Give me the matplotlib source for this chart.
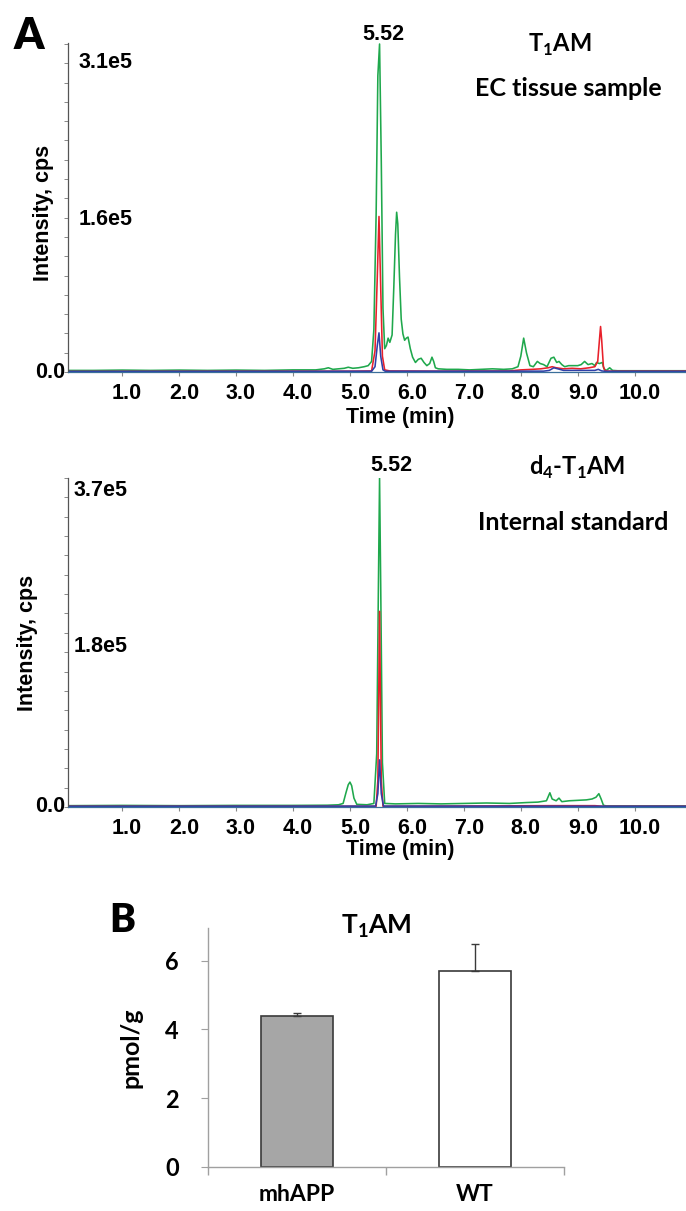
import matplotlib
matplotlib.use("Agg")
import matplotlib.pyplot as plt
import matplotlib.transforms as mtrans
from matplotlib.ticker import MultipleLocator, FixedLocator, NullFormatter
import numpy as np

plt.rcParams['mathtext.fontset'] = 'custom'
plt.rcParams['mathtext.rm'] = 'Lato'
plt.rcParams['mathtext.bf'] = 'Lato:bold'

# ---------------- data ----------------
# chromatogram traces: (time [min], intensity [kcps])
t1am_green = [(0.05,1.5),(0.5,1.5),(1.0,1.8),(1.5,1.5),(2.0,1.8),(2.5,1.5),(3.0,1.8),(3.5,1.5),(4.0,2),
    (4.4,2),(4.55,3),(4.62,4),(4.7,2.5),(4.8,3),(4.9,3.5),(4.97,4.5),(5.05,3.5),(5.15,4),(5.25,5),(5.32,6),
    (5.38,10),(5.42,40),(5.46,150),(5.49,280),(5.52,310),(5.55,200),(5.58,60),(5.61,22),(5.64,25),(5.67,32),
    (5.70,28),(5.74,35),(5.77,80),(5.80,130),(5.82,151),(5.84,140),(5.87,90),(5.90,50),(5.93,36),(5.96,30),
    (5.99,32),(6.02,33),(6.06,22),(6.10,14),(6.15,9),(6.20,12),(6.25,13),(6.30,9),(6.35,6),(6.40,8),(6.44,14),
    (6.47,10),(6.50,4),(6.55,3),(6.7,2.5),(6.9,2.5),(7.1,2),(7.3,2.5),(7.5,3),(7.7,2.5),(7.85,3),(7.95,5),
    (8.00,15),(8.05,32),(8.10,18),(8.16,6),(8.22,5),(8.29,10),(8.34,8),(8.40,7),(8.46,5),(8.53,13),(8.58,14),
    (8.63,9),(8.67,10),(8.72,7),(8.77,5),(8.84,6),(8.92,6),(9.00,6),(9.06,7),(9.12,10),(9.18,7),(9.25,8),
    (9.30,6),(9.33,9),(9.38,8),(9.43,9),(9.46,3),(9.50,1.5),(9.56,4),(9.61,1.5),(9.70,1.2),(10.0,1.2),
    (10.5,1.2),(10.9,1.2)]
t1am_red = [(0.05,0.5),(5.0,0.8),(5.38,1),(5.44,20),(5.48,90),(5.51,147),(5.54,80),(5.57,15),(5.61,2),(5.7,1),
    (6.5,0.8),(7.8,1),(8.0,2),(8.2,2.5),(8.35,3),(8.48,4),(8.55,5),(8.62,4),(8.75,3),(8.9,3.5),(9.05,3),
    (9.2,4),(9.3,5),(9.35,10),(9.38,30),(9.40,43),(9.42,30),(9.45,5),(9.48,1),(9.6,0.8),(10.9,0.8)]
t1am_blue = [(0.05,0.5),(5.38,0.7),(5.44,5),(5.48,25),(5.51,37),(5.54,15),(5.58,2),(5.62,0.7),(8.4,0.8),
    (8.5,1.5),(8.58,4),(8.65,3),(8.75,1.5),(9.3,1.5),(9.36,2.5),(9.42,1),(9.5,0.6),(10.9,0.6)]

d4_green = [(0.05,1.5),(1,1.8),(2,1.5),(3,1.8),(4,1.8),(4.6,2),(4.8,2.5),(4.88,4),(4.93,16),(4.97,25),(5.0,28),
    (5.03,24),(5.07,10),(5.12,3),(5.3,2.5),(5.42,4),(5.47,60),(5.50,250),(5.52,370),(5.54,250),(5.57,50),
    (5.61,4),(5.8,3.5),(6.2,4),(6.6,3.5),(7.0,4),(7.4,4.5),(7.8,4),(8.1,5),(8.3,5.5),(8.45,7),(8.51,16),
    (8.55,9),(8.62,7),(8.67,10),(8.72,6),(8.85,7),(9.0,7.5),(9.15,8),(9.25,9),(9.32,11),(9.37,15),(9.41,9),
    (9.45,2),(9.5,1.2),(10.0,1.2),(10.9,1.2)]
d4_red = [(0.05,0.8),(5.46,0.8),(5.49,30),(5.52,220),(5.55,30),(5.58,0.8),(8.5,1.5),(9.3,1.5),(9.45,0.8),(10.9,0.8)]
d4_blue = [(0.05,0.8),(5.45,1),(5.49,15),(5.52,53),(5.55,15),(5.59,1),(10.9,0.8)]

time_ticks = [1.0, 2.0, 3.0, 4.0, 5.0, 6.0, 7.0, 8.0, 9.0, 10.0]
t1am_ylabels = [(3.1e5, "3.1e5"), (1.6e5, "1.6e5")]
d4_ylabels = [(3.7e5, "3.7e5"), (1.8e5, "1.8e5")]
t1am_ymax = 3.1e5
d4_ymax = 3.7e5
retention_time = 5.52

groups = ["mhAPP", "WT"]
conc = [4.38, 5.69]
conc_err = [0.11, 0.79]
bar_yticks = [0, 2, 4, 6]

# ---------------- figure ----------------
W, H = 686, 1211
fig = plt.figure(figsize=(W/100, H/100), dpi=100)

def px_axes(l, t, r, b):
    return fig.add_axes([l/W, 1-b/H, (r-l)/W, (b-t)/H])

ARIAL = 'Liberation Sans'
CAL = 'Lato'
GREEN, RED, BLUE = '#1fa84c', '#e8202a', '#2f3fa8'

def chrom(ax, traces, ymax, ytop_px, ylabs, lab_offsets):
    for data, col in traces:
        arr = np.array(data)
        ax.plot(arr[:, 0], arr[:, 1]*1000, color=col, lw=1.15, solid_joinstyle='round')
    ax.set_xlim(0.05, 10.9)
    ax.set_ylim(0, ymax*ytop_px)
    for s in ['top', 'right']:
        ax.spines[s].set_visible(False)
    ax.spines['left'].set_color('#555555')
    ax.spines['left'].set_linewidth(0.9)
    ax.spines['bottom'].set_color('#3a6f9a')
    ax.spines['bottom'].set_linewidth(0.9)
    ax.set_xticks(time_ticks)
    ax.set_xticklabels([f"{v:.1f}" for v in time_ticks], fontfamily=ARIAL,
                       fontweight='bold', fontsize=15.5)
    ax.tick_params(axis='x', length=3, color='#888888', pad=5)
    off = mtrans.ScaledTranslation(5/100, 0, fig.dpi_scale_trans)
    for lab in ax.get_xticklabels():
        lab.set_transform(lab.get_transform() + off)
    ax.set_yticks([])
    ax.yaxis.set_minor_locator(MultipleLocator(ymax/17))
    ax.yaxis.set_minor_formatter(NullFormatter())
    ax.tick_params(axis='y', which='minor', length=3, color='#888888', width=0.7)
    for (v, s), (dx, dy) in zip(ylabs, lab_offsets):
        ax.annotate(s, xy=(0, v), xycoords=('axes fraction', 'data'),
                    xytext=(dx*0.72, dy*0.72), textcoords='offset points',
                    ha='left', va='center', fontfamily=ARIAL, fontweight='bold', fontsize=15.5)
    ax.annotate("0.0", xy=(0, 0), xycoords=('axes fraction', 'data'),
                xytext=(-3*0.72, 0), textcoords='offset points',
                ha='right', va='center', fontfamily=ARIAL, fontweight='bold', fontsize=15.5)

# Top chromatogram
ax1 = px_axes(68, 43, 686, 372)
chrom(ax1, [(t1am_green, GREEN), (t1am_red, RED), (t1am_blue, BLUE)], t1am_ymax,
      (372-43)/(372-44), t1am_ylabels, [(11, -19), (11, -17)])
ax1.annotate(f"{retention_time:.2f}", xy=(retention_time, t1am_ymax), xytext=(4*0.72, 10*0.72),
             textcoords='offset points', ha='center', va='center',
             fontfamily=ARIAL, fontweight='bold', fontsize=15.5)
fig.text(400/W, 1-418/H, "Time (min)", ha='center', va='center',
         fontfamily=ARIAL, fontweight='bold', fontsize=15.5)
fig.text(44/W, 1-213/H, "Intensity, cps", ha='center', va='center', rotation=90,
         fontfamily=ARIAL, fontweight='bold', fontsize=15.5)
fig.text(560/W, 1-45/H, r"T$_\mathbf{1}$AM", ha='center', va='center',
         fontfamily=CAL, fontweight='bold', fontsize=17)
fig.text(568/W, 1-88/H, "EC tissue sample", ha='center', va='center',
         fontfamily=CAL, fontweight='bold', fontsize=18)
fig.text(29/W, 1-36/H, "A", ha='center', va='center',
         fontfamily=CAL, fontweight='heavy', fontsize=31)

# Bottom chromatogram
ax2 = px_axes(68, 478, 686, 807)
chrom(ax2, [(d4_green, GREEN), (d4_red, RED), (d4_blue, BLUE)], d4_ymax,
      1.0, d4_ylabels, [(6, -12), (6, 0)])
ax2.annotate(f"{retention_time:.2f}", xy=(retention_time, d4_ymax), xytext=(12*0.72, 13*0.72),
             textcoords='offset points', ha='center', va='center',
             fontfamily=ARIAL, fontweight='bold', fontsize=15.5)
fig.text(400/W, 1-850/H, "Time (min)", ha='center', va='center',
         fontfamily=ARIAL, fontweight='bold', fontsize=15.5)
fig.text(28/W, 1-643/H, "Intensity, cps", ha='center', va='center', rotation=90,
         fontfamily=ARIAL, fontweight='bold', fontsize=15.5)
fig.text(577/W, 1-467/H, r"d$_\mathbf{4}$-T$_\mathbf{1}$AM", ha='center', va='center',
         fontfamily=CAL, fontweight='bold', fontsize=17)
fig.text(573/W, 1-522/H, "Internal standard", ha='center', va='center',
         fontfamily=CAL, fontweight='bold', fontsize=18)

# Panel B bar chart
ax3 = px_axes(208, 928, 564, 1167)
x = np.arange(len(groups))
ax3.bar(x, conc, width=0.4, color=['#a6a6a6', '#ffffff'], edgecolor='#3a3a3a', linewidth=1.2, zorder=2)
ax3.errorbar(x, conc, yerr=[[0]*len(conc_err), conc_err], fmt='none', ecolor='#3a3a3a',
             elinewidth=1.0, capsize=2.6, capthick=1.0, zorder=3)
ax3.set_xlim(-0.5, 1.5)
ax3.set_ylim(0, 6.95)
for s in ['top', 'right']:
    ax3.spines[s].set_visible(False)
for s in ['left', 'bottom']:
    ax3.spines[s].set_color('#a0a0a0')
    ax3.spines[s].set_linewidth(1.0)
ax3.set_yticks(bar_yticks)
ax3.set_yticklabels([str(v) for v in bar_yticks], fontfamily=CAL, fontweight='bold', fontsize=17)
ax3.tick_params(axis='y', length=5, color='#a0a0a0', pad=16)
ax3.set_xticks(x)
ax3.set_xticklabels(groups, fontfamily=CAL, fontweight='bold', fontsize=16.5)
ax3.tick_params(axis='x', which='major', length=0, pad=12)
ax3.xaxis.set_minor_locator(FixedLocator([-0.5, 0.5, 1.5]))
ax3.tick_params(axis='x', which='minor', length=6, color='#a0a0a0', width=1.0)
ax3.set_ylabel("pmol/g", fontfamily=CAL, fontweight='bold', fontsize=18)
ax3.yaxis.set_label_coords((142-208)/356, 0.5)
fig.text(376/W, 1-926/H, r"T$_\mathbf{1}$AM", ha='center', va='center',
         fontfamily=CAL, fontweight='bold', fontsize=19)
fig.text(122/W, 1-920/H, "B", ha='center', va='center',
         fontfamily=CAL, fontweight='heavy', fontsize=28)

fig.savefig("out.png", dpi=100)
